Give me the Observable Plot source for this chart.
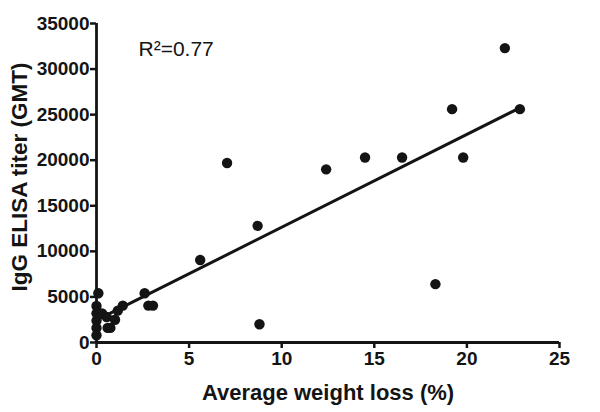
<!DOCTYPE html>
<html>
<head>
<meta charset="utf-8">
<script src="https://cdn.jsdelivr.net/npm/d3@7"></script>
<script src="https://cdn.jsdelivr.net/npm/@observablehq/plot@0.6"></script>
<style>
  html, body { margin: 0; padding: 0; background: #fff; }
</style>
</head>
<body>
<div id="chart"></div>
<script>
// Average weight loss (%) per group
const weightLoss = [0.1, 0, 0, 0, 0, 0, 0.3, 0.55, 0.6, 0.75, 1.0, 1.15, 1.42, 2.6, 2.8, 3.05,
  5.6, 7.05, 8.7, 8.8, 12.4, 14.5, 16.5, 18.3, 19.2, 19.8, 22.05, 22.86];
// IgG ELISA titer (GMT)
const titer = [5400, 4000, 3200, 2400, 1600, 800, 3200, 2800, 1600, 1600, 2500, 3500, 4050, 5400, 4050, 4050,
  9050, 19700, 12800, 2000, 19000, 20300, 20300, 6400, 25600, 20300, 32300, 25600];
// Linear fit endpoints
const fitX = [0, 22.86];
const fitY = [2450, 25750];
const xTicks = [0, 5, 10, 15, 20, 25];
const yTicks = [0, 5000, 10000, 15000, 20000, 25000, 30000, 35000];
const rSquared = "R²=0.77";
const xTitle = "Average weight loss (%)";
const yTitle = "IgG ELISA titer (GMT)";

const points = weightLoss.map((x, i) => ({x, y: titer[i]}));
const fit = fitX.map((x, i) => ({x, y: fitY[i]}));

const font = "'Liberation Sans', Arial, Helvetica, sans-serif";

const chart = Plot.plot({
  width: 600,
  height: 412,
  marginLeft: 96,
  marginRight: 41,
  marginTop: 23,
  marginBottom: 70,
  style: {fontFamily: font, color: "#141414", background: "#fff", overflow: "visible"},
  x: {domain: [0, 25], axis: null},
  y: {domain: [0, 35000], axis: null},
  marks: [
    Plot.axisX({ticks: xTicks, tickSize: 6, tickPadding: 3, strokeWidth: 2.5, fontSize: 19, fontWeight: "bold", label: null, tickFormat: d => String(d)}),
    Plot.axisY({ticks: yTicks, tickSize: 6, tickPadding: 1, strokeWidth: 2.5, fontSize: 19, fontWeight: "bold", label: null, tickFormat: d => String(d)}),
    Plot.ruleY([0], {stroke: "#141414", strokeWidth: 2.8}),
    Plot.ruleX([0], {stroke: "#141414", strokeWidth: 2.8}),
    Plot.line(fit, {x: "x", y: "y", stroke: "#141414", strokeWidth: 3}),
    Plot.dot(points, {x: "x", y: "y", r: 5.2, fill: "#141414", stroke: null}),
    Plot.text([rSquared], {frameAnchor: "top-left", dx: 42, dy: 18, fontSize: 21, textAnchor: "start", fill: "#141414"}),
    Plot.text([xTitle], {frameAnchor: "bottom", dy: 50, fontSize: 22, fontWeight: "bold", fill: "#141414", lineAnchor: "middle"}),
    Plot.text([yTitle], {frameAnchor: "left", dx: -77, dy: -6, rotate: -90, fontSize: 22.5, fontWeight: "bold", fill: "#141414", textAnchor: "middle", lineAnchor: "middle"})
  ]
});

d3.select(chart).selectAll('g[aria-label$="tick label"]')
  .style("font-size", "19px").style("font-weight", "bold").attr("fill", "#141414");

document.getElementById("chart").appendChild(chart);
</script>
</body>
</html>
